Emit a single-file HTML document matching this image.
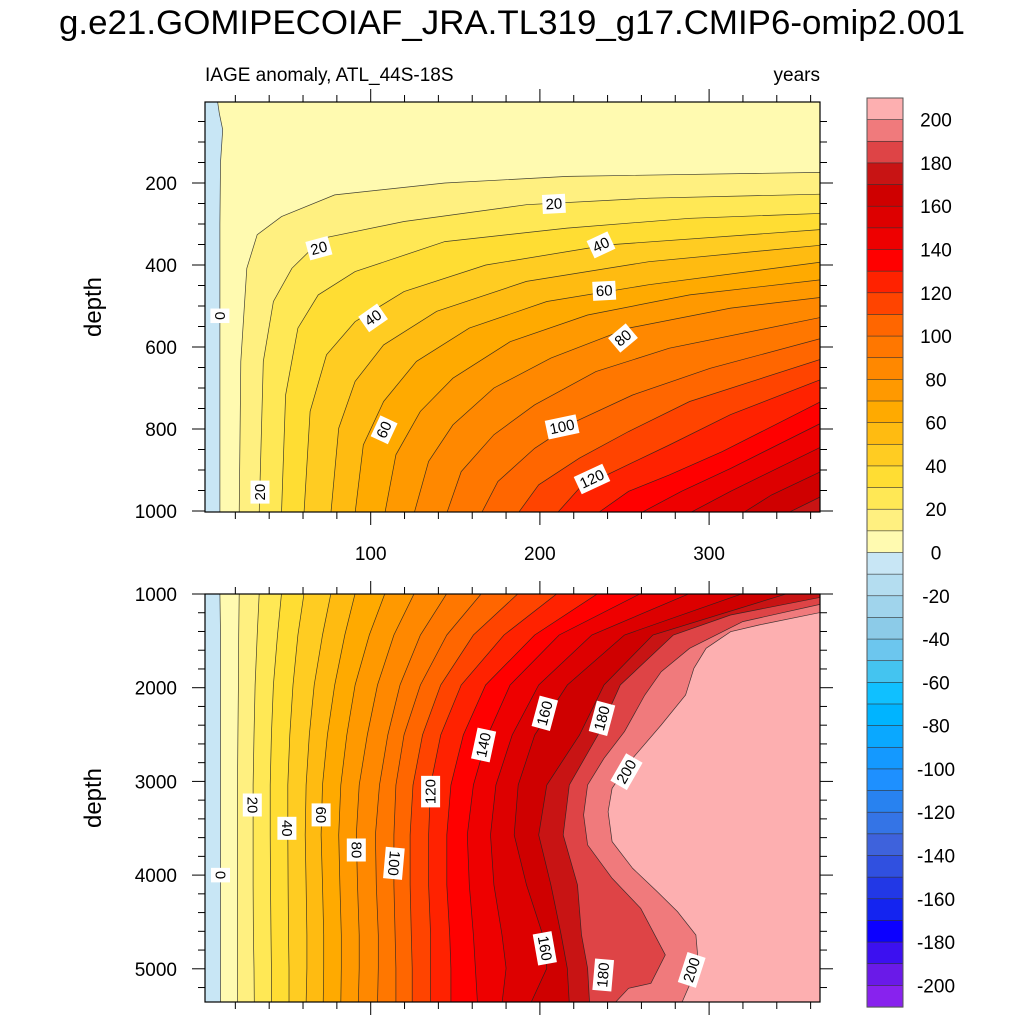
<!DOCTYPE html>
<html><head><meta charset="utf-8"><style>
body{margin:0;background:#fff}
svg{display:block;font-family:"Liberation Sans",sans-serif}
</style></head><body>
<svg id="svg" width="1024" height="1024" viewBox="0 0 1024 1024" xmlns="http://www.w3.org/2000/svg">
<defs>
<clipPath id="clipTop"><rect x="205" y="102" width="615" height="410"/></clipPath>
<clipPath id="clipBot"><rect x="205" y="594" width="615" height="408"/></clipPath>
</defs>
<text x="512" y="34" text-anchor="middle" font-size="34" textLength="906" lengthAdjust="spacingAndGlyphs">g.e21.GOMIPECOIAF_JRA.TL319_g17.CMIP6-omip2.001</text>
<text x="205" y="81" font-size="19">IAGE anomaly, ATL_44S-18S</text>
<text x="820" y="81" font-size="19" text-anchor="end">years</text>
<text transform="translate(101,307) rotate(-90)" text-anchor="middle" font-size="24">depth</text>
<text transform="translate(101,798) rotate(-90)" text-anchor="middle" font-size="24">depth</text>
<g id="topPanel" clip-path="url(#clipTop)"></g>
<g id="botPanel" clip-path="url(#clipBot)"></g>
<g id="labels"></g>
<g id="axes"></g>
<g id="cbar"></g>
</svg>
<script>
// band colors, from below -200 up to above 200 (step 10)
const bandColors = ["#8822EE","#6A1AE8","#3C10F0","#0C00FF","#1424F0","#2238E6","#3050E0","#3E62DC","#3474E6","#2882F0","#1E90FF","#1499FF","#0AA8FF","#00B4FF","#10C0FF","#44C4F0","#6CC6EE","#8CCBE8","#A0D4EC","#B4DDF0","#C8E6F5",
"#FFFAB0","#FFF080","#FFE855","#FFDD33","#FFCC22","#FFBB11","#FFAA00","#FF9900","#FF8800","#FF7700","#FF6600","#FF4400","#FF2200","#FF0000","#EE0000","#DD0000","#CF0000","#C81414","#DE4446","#F07A7C","#FDAFB0"];
const cbarLabels = [200,180,160,140,120,100,80,60,40,20,0,-20,-40,-60,-80,-100,-120,-140,-160,-180,-200];

// top panel (0-1000 m) contour lines: levels, years, depths
const topLevels = [0,10,20,30,40,50,60,70,80,90,100,110,120,130,140,150,160,170];
const topYears = [
 [10.9,10.9,11.2,12.5,10.5,9.5,368],
 [22.3,23.2,26.8,32.9,47.3,78.7,143.8,216.2,368],
 [34.1,36.5,42.5,53.4,71.5,119.7,192.1,264.4,368],
 [47.3,49.7,57,69,90.8,143.8,216,288.5,368],
 [60.6,64.2,73.9,90.8,119.7,168,240.3,368],
 [76.5,81.1,90.8,107.6,139,192,264.4,368],
 [90.8,95.6,107.6,127,158.3,204.1,264.4,368],
 [108.4,114.9,129.3,148.6,182.4,228.2,288.5,368],
 [125.7,134.2,148.6,172.8,206.5,252.4,312.7,368],
 [145,153.5,172.8,196.9,233.1,276.5,368],
 [165.5,175.2,196.9,221,254.8,300.6,368],
 [187.2,199.3,223.4,252.4,288.5,368],
 [210.2,223.4,247.5,276.5,312.7,368],
 [234.3,252.4,276.5,307.8,368],
 [259.6,283.7,312.7,368],
 [288.5,312.7,368],
 [319.9,336.8,368],
 [346.4,368]];
const topDepths = [
 [1005,300,150,70,30,2,2],
 [1005,635,408,326,282,229,200,184,174],
 [1005,635,489,408,335,294,253,237,227],
 [1005,717,554,473,416,343,310,286,274],
 [1005,757,619,538,465,400,351,313],
 [1005,798,684,595,513,440,392,351],
 [1005,839,733,635,554,489,448,392],
 [1005,863,757,676,587,522,473,435],
 [1005,879,790,700,627,554,505,478],
 [1005,904,814,741,660,603,526],
 [1005,928,847,782,717,652,577],
 [1005,936,871,806,733,627],
 [1005,944,896,839,765,676],
 [1005,952,912,855,729],
 [1005,952,896,782],
 [1005,952,840],
 [1005,961,900],
 [1005,961]];

// bottom panel (1000-5360 m) contour lines
const botLevels = [0,10,20,30,40,50,60,70,80,90,100,110,120,130,140,150,160,170,180,190,200];
const botGridDepths = [995,1438,1971,2505,3038,3572,4105,4639,4995,5370];
const botYears = [
 [10.9,11.2,11.2,11.2,11.2,11.2,11.2,11.2,11.2,11.2],
 [22.3,22.0,21.8,21.5,21.3,21.3,21.3,21.3,21.3,21.3],
 [34.1,32.9,31.7,31.0,30.5,30.5,30.5,30.7,31.0,31.2],
 [47.3,44.9,42.5,41.3,40.6,40.6,40.8,41.1,41.3,41.3],
 [60.6,57,54.1,52.2,51,51,51.2,51.4,51.7,51.7],
 [76.5,71.5,66.6,63.7,61.8,61.3,61.8,62.3,62.3,61.8],
 [90.8,84.7,78.7,74.4,71.5,70.7,71.5,72.2,72.2,71.9],
 [108.4,99.2,90.8,85.9,82.3,81.1,81.8,82.6,82.6,82.3],
 [125.7,113.7,104,98,93.2,91.5,92.2,93.2,93.2,92.7],
 [145,129.4,117.3,110.1,105.2,102.8,103.3,104.5,104.5,104],
 [165.5,145,129.4,119.7,114.9,113.7,113.7,114.4,114.9,114.9],
 [187.2,160.7,141.4,130.6,125,123.3,123.3,124,124.5,124.5],
 [210.2,178.8,153.5,141.4,135.4,134.2,134.2,135.4,135.4,135.4],
 [234.3,196.9,167.9,154.7,147.4,145,145,146.7,147.4,147.4],
 [259.6,211.4,182.4,169.2,160.7,157.1,158.3,160.7,161.9,163.1],
 [288.5,230.7,199.3,183.6,174,170.8,172.8,177.6,180,177.6],
 [319.9,250,216.2,196.9,187.2,184.8,192.1,201.7,204.1,194.5],
 [346.4,266.8,237.9,223.4,204.1,199.3,206.5,212.6,216.2,217.4]];
// high levels that enter from the right edge
const c180Years = [368,312.7,278.9,247.5,234.3,217.4,213.8,222.2,224.6,228.2,229.4];
const c180Depths = [1028,1224,1438,1971,2505,3038,3572,4105,4639,4995,5370];
const c190Years = [368,319.9,288.5,271.7,262,250,237.9,228.2,225.8,228.2,242.7,259.6,274.1,265.6,252.4,244];
const c190Depths = [1100,1295,1580,1829,2078,2469,2754,3038,3358,3678,4034,4354,4852,5155,5208,5370];
const c200Years = [368,329.5,312.7,298.2,291,286.1,271.7,254.8,242.7,240.3,242.7,254.8,269.3,281.3,292.2,293.4,288.5,283.7];
const c200Depths = [1189,1331,1402,1580,1793,2078,2398,2754,3074,3323,3643,3927,4176,4390,4639,4888,5172,5370];

// contour labels: value, year, depth, angle
const topLabVals = [20,20,40,60,40,80,0,100,60,120,20];
const topLabYears = [208.3,69.4,236.1,238,101.4,249.1,10.9,213.1,107.9,230.8,34.6];
const topLabDepths = [251,359,351,463,529,578,524,795,802,922,954];
const topLabAngles = [-3,-15,-25,-3,-35,-40,90,-12,-65,-25,-90];
const botLabVals = [0,20,40,60,80,100,120,140,160,180,200,160,180,200];
const botLabYears = [11.2,30,50.5,70.7,91.5,113.7,135.4,166.7,202.9,236.7,251.2,202.9,237.4,289.7];
const botLabDepths = [4000,3252,3501,3358,3732,3874,3109,2611,2273,2327,2896,4781,5066,5012];
const botLabAngles = [90,90,90,90,90,95,-90,-78,-75,-75,-60,80,-85,-72];

const NS = "http://www.w3.org/2000/svg";
const xS = yr => 201.5 + 1.692*yr;
const topY = d => 183 + (d-200)*0.41;
const botY = d => 594 + (d-1000)*0.0937;
function bandAbove(lvl){ return bandColors[Math.round((lvl+200)/10)+1]; }
function mk(tag, attrs, parent){ const e=document.createElementNS(NS,tag); for(const k in attrs) e.setAttribute(k,attrs[k]); parent.appendChild(e); return e; }

function drawPanel(g, yFn, levels, yearsArr, depthsArr, closePts, bgColor, name){
  const bg = mk('rect',{x:205,y:90,width:620,height:930,fill:bgColor},g);
  
  
  const lines=[];
  levels.forEach((lv,i)=>{
    const pts = yearsArr[i].map((yr,j)=>[xS(yr), yFn(depthsArr[i][j])]);
    const poly = pts.concat(closePts.map(p=>[xS(p[0]), yFn(p[1])]));
    const p = mk('polygon',{points:poly.map(q=>q[0].toFixed(1)+','+q[1].toFixed(1)).join(' '),fill:bandAbove(lv)},g);
    
    
    lines.push([lv,pts]);
  });
  lines.forEach(([lv,pts])=>{
    const l = mk('polyline',{points:pts.map(q=>q[0].toFixed(1)+','+q[1].toFixed(1)).join(' '),fill:'none',stroke:'#222','stroke-width':0.7,'stroke-opacity':0.85},g);
    
    
  });
}

drawPanel(document.getElementById('topPanel'), topY, topLevels, topYears, topDepths, [[380,1010]], bandColors[20], 'top');
const bYears = botYears.concat([c180Years,c190Years,c200Years]);
const bDepths = botYears.map(()=>botGridDepths).concat([c180Depths,c190Depths,c200Depths]);
drawPanel(document.getElementById('botPanel'), botY, botLevels, bYears, bDepths, [[380,5400],[380,990]], bandColors[20], 'bottom');

// contour labels
const labG = document.getElementById('labels');
function drawLabels(vals, yrs, deps, angs, yFn, name){
  vals.forEach((v,i)=>{
    const x=xS(yrs[i]), y=yFn(deps[i]);
    const g=mk('g',{transform:`translate(${x.toFixed(1)},${y.toFixed(1)}) rotate(${angs[i]})`},labG);
    
    
    const w = String(v).length*8.5+6;
    mk('rect',{x:-w/2,y:-9.5,width:w,height:19,fill:'#fff'},g);
    mk('text',{x:0,y:5,'text-anchor':'middle','font-size':15},g).textContent=v;
  });
}
drawLabels(topLabVals, topLabYears, topLabDepths, topLabAngles, topY, 'top');
drawLabels(botLabVals, botLabYears, botLabDepths, botLabAngles, botY, 'bottom');

// axes
const ax = document.getElementById('axes');
const xMajor=[100,200,300];
const topDepthTicks=[200,400,600,800,1000];
const botDepthTicks=[1000,2000,3000,4000,5000];
function tickLine(x1,y1,x2,y2){ mk('line',{x1,y1,x2,y2,stroke:'#000','stroke-width':1},ax); }
[[102,512],[594,1002]].forEach(([t,b],pi)=>{
  const fr=mk('rect',{x:205,y:t,width:615,height:b-t,fill:'none',stroke:'#000','stroke-width':1.2},ax);
  
  
  for(let yr=20; yr<=360; yr+=20){
    const x=xS(yr), len = (yr%100===0)?13:7;
    tickLine(x,t,x,t-len); tickLine(x,b,x,b+len);
  }
});
xMajor.forEach(v=>{
  const t=mk('text',{x:xS(v),y:560,'text-anchor':'middle','font-size':19},ax);
  t.textContent=v;
  
  
});
for(let d=50; d<=1000; d+=50){
  const y=topY(d); if(y<102) continue;
  const len=(d%200===0)?13:7;
  tickLine(205,y,205-len,y); tickLine(820,y,820+len,y);
}
topDepthTicks.forEach(d=>{
  const t=mk('text',{x:177,y:topY(d)+7,'text-anchor':'end','font-size':19},ax);
  t.textContent=d;
  
  
});
for(let d=1000; d<=5300; d+=200){
  const len=(d%1000===0)?13:7;
  const y=botY(d);
  tickLine(205,y,205-len,y); tickLine(820,y,820+len,y);
}
botDepthTicks.forEach(d=>{
  const t=mk('text',{x:177,y:botY(d)+7,'text-anchor':'end','font-size':19},ax);
  t.textContent=d;
  
  
});

// colorbar
const cb=document.getElementById('cbar');
const bh=909/42;
for(let j=0;j<42;j++){
  const r=mk('rect',{x:867,y:98+j*bh,width:36,height:bh+0.3,fill:bandColors[41-j],stroke:'#333','stroke-width':0.6},cb);
  
  
}
mk('rect',{x:867,y:98,width:36,height:909,fill:'none',stroke:'#555','stroke-width':1},cb);
cbarLabels.forEach((v,i)=>{
  const y=98+(1+2*i)*bh;
  const t=mk('text',{x:936,y:y+7,'text-anchor':'middle','font-size':19},cb);
  t.textContent=v;
  
  
});
</script>
</body></html>
